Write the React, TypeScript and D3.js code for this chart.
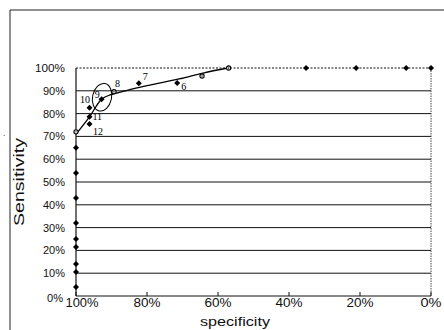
import React from "react";
import * as d3 from "d3";

// ROC points (specificity %, sensitivity %)
const specificity = [100, 100, 100, 100, 100, 100, 100, 100, 100, 100, 96.2, 96.2, 96.2, 92.8, 89.3, 82.3, 71.5, 64.5, 57, 35.2, 21.1, 7, 0];
const sensitivity = [4, 10.5, 14, 21.5, 25, 32, 43, 54, 65, 72, 75.4, 78.6, 82.6, 86.3, 89.6, 93.3, 93.4, 96.5, 100, 100, 100, 100, 100];
const markerKind = ["d", "d", "d", "d", "d", "d", "d", "d", "d", "c", "d", "d", "d", "d", "c", "d", "d", "c", "c", "d", "d", "d", "d"];
const pointLabels = ["", "", "", "", "", "", "", "", "", "", "12", "11", "10", "9", "8", "7", "6", "", "", "", "", "", ""];

// fitted trend line
const fitSpec = [100, 96.2, 92.8, 90.4, 84, 79.2, 71, 64.2, 57.2];
const fitSens = [71, 78.6, 86.3, 88.2, 90.8, 92.5, 95.2, 97.8, 100];

const yTicks = [0, 10, 20, 30, 40, 50, 60, 70, 80, 90, 100];
const xTicks = [100, 80, 60, 40, 20, 0];

const W = 444, H = 330;
const x = d3.scaleLinear().domain([100, 0]).range([76, 431]);
const y = d3.scaleLinear().domain([0, 100]).range([296, 68]);

const labelOffset: Record<string, [number, number]> = {
  "10": [-9.5, -4.7],
  "11": [3, 3.5],
  "12": [3.5, 11],
  "9": [-6.7, -1.3],
  "8": [1, -4.7],
  "7": [4, -3.3],
  "6": [4, 7],
};

const SANS = "Arial, 'Liberation Sans', sans-serif";
const SERIF = "'Times New Roman', 'Liberation Serif', serif";

export default function App() {
  const line = d3
    .line<number>()
    .x((_, i) => x(fitSpec[i]))
    .y((_, i) => y(fitSens[i]))
    .curve(d3.curveCatmullRom.alpha(0.5));
  const fitPath = line(fitSpec) || "";

  const p9 = 13;
  const cx9 = x(specificity[p9]) + 0.5;
  const cy9 = y(sensitivity[p9]) - 2;

  const yLen = (t: number) => (t === 100 ? 30 : t === 0 ? 16 : 22);
  const xLen = (t: number) => (t === 100 ? 33 : t === 0 ? 21 : 27);
  const xLabelX = (t: number) => (t === 100 ? x(t) + 6 : x(t));

  return (
    <svg
      width={W}
      height={H}
      style={{ position: "absolute", left: 0, top: 0, background: "#fff" }}
      fontFamily={SANS}
    >
      {/* outer frame */}
      <line x1={10} y1={10} x2={W} y2={10} stroke="#222" strokeWidth={1} />
      <line x1={10} y1={10} x2={10} y2={H} stroke="#222" strokeWidth={1} />
      <text x={3} y={136} fontSize={8} fill="#000">.</text>

      {/* gridlines */}
      {yTicks.map((t) => (
        <line
          key={"g" + t}
          x1={x(100)}
          x2={x(0)}
          y1={y(t)}
          y2={y(t)}
          stroke="#111"
          strokeWidth={1}
          strokeDasharray={t === 100 ? "2,1.5" : undefined}
        />
      ))}
      {/* right border dotted */}
      <line x1={x(0)} x2={x(0)} y1={y(100)} y2={y(0)} stroke="#444" strokeWidth={1} strokeDasharray="1.5,1" />
      {/* left axis */}
      <line x1={x(100)} x2={x(100)} y1={y(100)} y2={y(0)} stroke="#111" strokeWidth={1.2} />

      {/* x ticks */}
      {xTicks.map((t) => (
        <line key={"xt" + t} x1={x(t)} x2={x(t)} y1={y(0) - 4} y2={y(0)} stroke="#111" strokeWidth={1} />
      ))}

      {/* y tick labels */}
      {yTicks.map((t) => (
        <text
          key={"yl" + t}
          x={t === 0 ? 63 : 65}
          y={t === 0 ? y(t) + 6 : y(t) + 4}
          fontSize={11}
          textAnchor="end"
          textLength={yLen(t)}
          lengthAdjust="spacingAndGlyphs"
          fill="#111"
        >
          {t + "%"}
        </text>
      ))}

      {/* x tick labels */}
      {xTicks.map((t) => (
        <text
          key={"xl" + t}
          x={xLabelX(t)}
          y={307}
          fontSize={12}
          textAnchor="middle"
          textLength={xLen(t)}
          lengthAdjust="spacingAndGlyphs"
          fill="#111"
        >
          {t + "%"}
        </text>
      ))}

      {/* axis titles */}
      <text
        x={235}
        y={326}
        fontSize={13}
        textAnchor="middle"
        textLength={70}
        lengthAdjust="spacingAndGlyphs"
        fill="#111"
      >
        specificity
      </text>
      <text
        transform={`translate(24,182) rotate(-90)`}
        fontSize={14}
        textAnchor="middle"
        textLength={88}
        lengthAdjust="spacingAndGlyphs"
        fill="#111"
      >
        Sensitivity
      </text>

      {/* trend line */}
      <path d={fitPath} fill="none" stroke="#000" strokeWidth={1.3} />

      {/* highlight ellipse around point 9 */}
      <ellipse
        cx={cx9}
        cy={cy9}
        rx={9.5}
        ry={14}
        transform={`rotate(12,${cx9},${cy9})`}
        fill="none"
        stroke="#000"
        strokeWidth={1}
      />

      {/* points */}
      {specificity.map((s, i) => {
        const px = x(s);
        const py = y(sensitivity[i]);
        if (markerKind[i] === "c") {
          return (
            <g key={"p" + i}>
              <circle cx={px} cy={py} r={2.1} fill="#fff" stroke="#000" strokeWidth={1.1} />
              <circle cx={px} cy={py} r={0.7} fill="#000" />
            </g>
          );
        }
        const r = 3;
        return (
          <path
            key={"p" + i}
            d={`M${px},${py - r}L${px + r},${py}L${px},${py + r}L${px - r},${py}Z`}
            fill="#000"
          />
        );
      })}

      {/* point labels */}
      {pointLabels.map((lab, i) => {
        if (!lab) return null;
        const off = labelOffset[lab] || [3, -3];
        return (
          <text
            key={"pl" + i}
            x={x(specificity[i]) + off[0]}
            y={y(sensitivity[i]) + off[1]}
            fontSize={10}
            fontFamily={SERIF}
            fill="#000"
          >
            {lab}
          </text>
        );
      })}
    </svg>
  );
}
